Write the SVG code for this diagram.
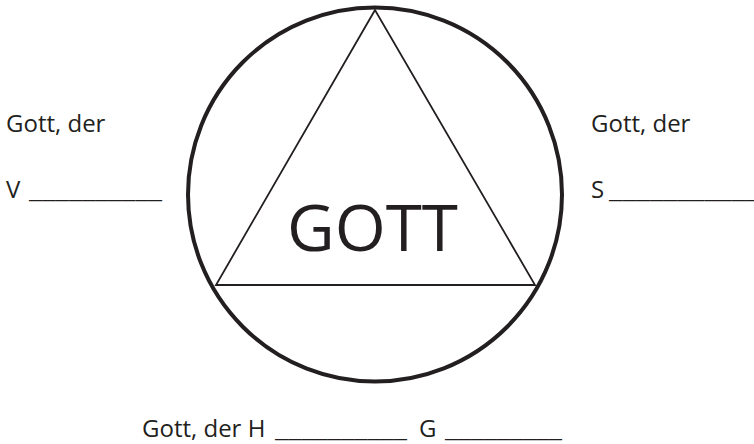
<svg xmlns="http://www.w3.org/2000/svg" width="754" height="444" viewBox="0 0 754 444">
<style>
text{font-family:"Open Sans","Noto Sans","Liberation Sans",sans-serif;fill:#231f20}
.lbl{font-size:24px}
.big{font-size:64px}
.ul{font-size:24px}
</style>
<rect width="754" height="444" fill="#fff"/>
<g id="circle">
<circle cx="375" cy="194.5" r="187" fill="none" stroke="#231f20" stroke-width="4"/>
</g>
<g id="triangle">
<polygon points="375,10 216,285 535,285" fill="none" stroke="#231f20" stroke-width="1.8" stroke-linejoin="miter"/>
</g>
<g id="center">
<text class="big" x="287" y="251" textLength="171" lengthAdjust="spacingAndGlyphs">GOTT</text>
</g>
<g id="left">
<text class="lbl" x="6" y="132">Gott, der</text>
<text class="lbl" x="6" y="198">V</text>
<text class="ul" x="29" y="198" textLength="133" lengthAdjust="spacingAndGlyphs">__________</text>
</g>
<g id="right">
<text class="lbl" x="591" y="132">Gott, der</text>
<text class="lbl" x="591" y="198">S</text>
<text class="ul" x="609" y="198" textLength="150" lengthAdjust="spacingAndGlyphs">___________</text>
</g>
<g id="bottom">
<text class="lbl" x="142" y="437">Gott, der H</text>
<text class="ul" x="275" y="437" textLength="132" lengthAdjust="spacingAndGlyphs">__________</text>
<text class="lbl" x="419" y="437">G</text>
<text class="ul" x="445" y="437" textLength="117" lengthAdjust="spacingAndGlyphs">_________</text>
</g>
<g id="connectors"></g>
</svg>
